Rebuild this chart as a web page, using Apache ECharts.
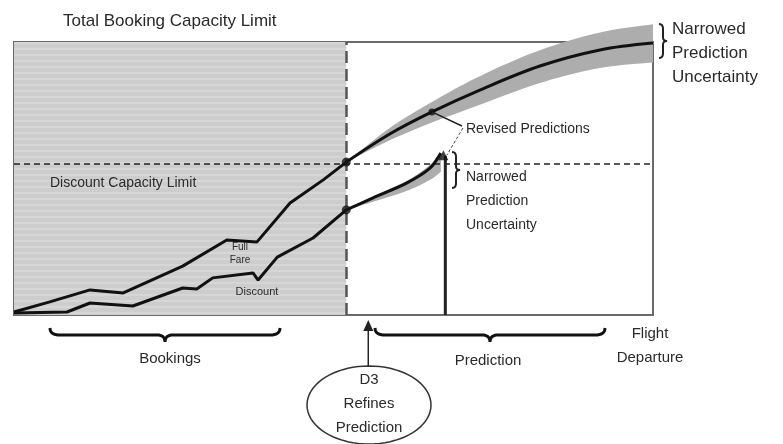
<!DOCTYPE html>
<html><head><meta charset="utf-8">
<script src="https://cdn.jsdelivr.net/npm/echarts@6/dist/echarts.min.js"></script>
<style>html,body{margin:0;padding:0;background:#fff}#c{width:783px;height:444px}</style>
</head><body><div id="c"></div>
<script>
// ---- data (time 0..100 = booking window, bookings 0..100 = total capacity) ----
var fullFareHistX = [0, 5.6, 11.9, 17.1, 26.4, 33.3, 38.0, 43.2, 48.4, 52];
var fullFareHistY = [1.1, 4.8, 9.2, 8.1, 17.9, 27.5, 26.7, 41.0, 49.5, 56];
var discountHistX = [0, 8.3, 11.9, 18.6, 26.4, 28.6, 31.1, 37.4, 38.2, 41.2, 46.8, 52];
var discountHistY = [0.7, 1.1, 4.4, 3.3, 9.9, 9.5, 13.6, 15.4, 12.8, 21.2, 28.2, 38.5];
var fullFarePredX = [52, 58.8, 65.4, 72.9, 82.3, 91.7, 100];
var fullFarePredY = [56, 66.3, 74.4, 82.4, 91.2, 97.1, 99.6];
var fullFareUpper = [56, 68.5, 78, 87.5, 97, 103.5, 106.5];
var fullFareLower = [56, 64, 70.5, 77, 85, 90.5, 92.5];
var discPredX = [52, 56.2, 61.5, 65.1, 66.8];
var discPredY = [38.5, 42.9, 48.4, 53.8, 59.3];
var discUpper = [38.5, 43.5, 49.2, 55, 59.3];
var discLower = [38.5, 41.5, 45.5, 49.5, 52.5];
var refineTime = 52;          // D3 refines prediction here
var discountLimit = 55.3;     // discount capacity limit
var totalLimit = 100;         // total booking capacity limit
var discDepartX = 67.5;       // discount drop line
var revisedDotX = 65.4, revisedDotY = 74.4;

function zip(xs, ys){ return xs.map(function(x,i){ return [x, ys[i]]; }); }

var FONT = 'Liberation Sans';
var chart = echarts.init(document.getElementById('c'), null, {renderer:'canvas'});

// stripe pattern for booking history area
var pc = document.createElement('canvas'); pc.width = 8; pc.height = 6;
var pctx = pc.getContext('2d');
pctx.fillStyle = '#cdcdcd'; pctx.fillRect(0,0,8,6);
pctx.fillStyle = '#d6d6d6'; pctx.fillRect(0,0,8,2);

// Catmull-Rom resampling of pixel points for smooth band edges
function catmull(pts, n){
  var out = [];
  for (var i=0;i<pts.length-1;i++){
    var p0 = pts[Math.max(i-1,0)], p1 = pts[i], p2 = pts[i+1], p3 = pts[Math.min(i+2,pts.length-1)];
    for (var k=0;k<n;k++){
      var t = k/n, t2=t*t, t3=t2*t;
      out.push([0,1].map(function(d){
        return 0.5*((2*p1[d]) + (-p0[d]+p2[d])*t + (2*p0[d]-5*p1[d]+4*p2[d]-p3[d])*t2 + (-p0[d]+3*p1[d]-3*p2[d]+p3[d])*t3);
      }));
    }
  }
  out.push(pts[pts.length-1]);
  return out;
}

function bandSeries(xs, up, lo, name){
  return {
    type:'custom', name:name, silent:true, clip:false, z:2,
    data:[0],
    renderItem:function(params, api){
      var u = [], l = [];
      for (var i=0;i<xs.length;i++){ u.push(api.coord([xs[i], up[i]])); l.push(api.coord([xs[i], lo[i]])); }
      var pts = catmull(u, 10).concat(catmull(l, 10).reverse());
      return {type:'polygon', shape:{points:pts}, style:{fill:'#adadad'}};
    }
  };
}

var lineBase = {type:'line', showSymbol:false, clip:false, z:5,
  lineStyle:{color:'#111', width:3}, itemStyle:{color:'#111'}};

chart.setOption({
  animation:false,
  grid:{left:14, top:42, right:130, bottom:129, show:true, borderColor:'#6a6a6a', borderWidth:2, backgroundColor:'transparent'},
  xAxis:{type:'value', min:0, max:100, show:false},
  yAxis:{type:'value', min:0, max:100, show:false},
  series:[
    {type:'line', data:[], silent:true,
      markArea:{silent:true, itemStyle:{color:{image:pc, repeat:'repeat'}},
        data:[[{coord:[0,0]},{coord:[refineTime,totalLimit]}]]},
      markLine:{silent:true, symbol:'none', label:{show:false},
        data:[
          [{coord:[0,discountLimit], lineStyle:{color:'#222', width:1.6, type:[6,4]}},{coord:[100,discountLimit]}],
          [{coord:[refineTime,0], lineStyle:{color:'#555', width:2.5, type:[12,6]}},{coord:[refineTime,totalLimit]}]
        ]}
    },
    bandSeries(fullFarePredX, fullFareUpper, fullFareLower, 'ffband'),
    bandSeries(discPredX, discUpper, discLower, 'dband'),
    Object.assign({}, lineBase, {name:'Full Fare', data:zip(fullFareHistX, fullFareHistY)}),
    Object.assign({}, lineBase, {name:'Discount', data:zip(discountHistX, discountHistY)}),
    Object.assign({}, lineBase, {name:'Full Fare pred', smooth:0.35, data:zip(fullFarePredX, fullFarePredY)}),
    Object.assign({}, lineBase, {name:'Discount pred', smooth:0.3, data:zip(discPredX, discPredY)}),
    Object.assign({}, lineBase, {name:'drop', data:[[discDepartX,0],[discDepartX,discPredY[discPredY.length-1]-1]],
      lineStyle:{color:'#222', width:3}}),
    {type:'scatter', z:6, symbol:'triangle', symbolSize:[10,10], itemStyle:{color:'#111'},
      data:[[discDepartX-0.3, discPredY[discPredY.length-1]-0.8]]},
    {type:'scatter', z:6, symbolSize:9, itemStyle:{color:'#111'},
      data:[[refineTime, fullFareHistY[fullFareHistY.length-1]],[refineTime, discountHistY[discountHistY.length-1]]]},
    {type:'scatter', z:6, symbolSize:7, itemStyle:{color:'#111'}, data:[[revisedDotX, revisedDotY]]}
  ]
});

function px(x,y){ return chart.convertToPixel({gridIndex:0}, [x,y]); }

function quad(p0, p1, p2, n){
  var o = [];
  for (var k=0;k<=n;k++){ var t=k/n, a=(1-t)*(1-t), b=2*(1-t)*t, c=t*t;
    o.push([a*p0[0]+b*p1[0]+c*p2[0], a*p0[1]+b*p1[1]+c*p2[1]]); }
  return o;
}
function hBrace(x1, x2, y){
  var m = (x1+x2)/2, pts = [];
  pts = pts.concat(quad([x1,y-7],[x1,y],[x1+10,y],8));
  pts = pts.concat(quad([m-8,y],[m,y],[m,y+7],8));
  pts = pts.concat(quad([m,y+7],[m,y],[m+8,y],8));
  pts = pts.concat(quad([x2-10,y],[x2,y],[x2,y-7],8));
  return {type:'polyline', z:10, shape:{points:pts}, style:{fill:null, stroke:'#111', lineWidth:3}};
}
function vBrace(x, y1, y2){
  var m = (y1+y2)/2, pts = [];
  pts = pts.concat(quad([x-4,y1],[x,y1],[x,y1+5],6));
  pts = pts.concat(quad([x,m-4],[x,m],[x+4,m],6));
  pts = pts.concat(quad([x+4,m],[x,m],[x,m+4],6));
  pts = pts.concat(quad([x,y2-5],[x,y2],[x-4,y2],6));
  return {type:'polyline', z:10, shape:{points:pts}, style:{fill:null, stroke:'#222', lineWidth:2}};
}
function ellipsePts(cx, cy, rx, ry){
  var o = [];
  for (var k=0;k<72;k++){ var a = k/72*Math.PI*2; o.push([cx+rx*Math.cos(a), cy+ry*Math.sin(a)]); }
  return o;
}
function txt(x, y, s, size, align, lh){
  return {type:'text', z:10, x:x, y:y, style:{text:s, font:size+'px '+FONT, fill:'#2a2a2a',
    align:align||'left', verticalAlign:'middle', lineHeight:lh||size*1.2}};
}

var dot = px(revisedDotX, revisedDotY);
var peak = px(discPredX[discPredX.length-1], discPredY[discPredY.length-1]);
var ax = px(refineTime, 0)[0] + 22;

chart.setOption({graphic:[
  txt(63, 21, 'Total Booking Capacity Limit', 17),
  txt(50, 183, 'Discount Capacity Limit', 14),
  txt(240, 254, 'Full\nFare', 10, 'center', 13),
  txt(257, 292, 'Discount', 11, 'center'),
  txt(466, 129, 'Revised Predictions', 14),
  {type:'polyline', z:10, shape:{points:[dot,[462,126]]}, style:{stroke:'#222', lineWidth:1.5}},
  {type:'polyline', z:10, shape:{points:[[463,128],[peak[0]+6,peak[1]+2]]}, style:{stroke:'#444', lineWidth:1, lineDash:[3,2]}},
  vBrace(663, 24, 58),
  txt(672, 53, 'Narrowed\nPrediction\nUncertainty', 17, 'left', 24),
  vBrace(456, 152, 188),
  txt(466, 201, 'Narrowed\nPrediction\nUncertainty', 14, 'left', 24),
  hBrace(50, 280, 335),
  hBrace(375, 605, 335),
  txt(170, 359, 'Bookings', 15, 'center'),
  txt(488, 361, 'Prediction', 15, 'center'),
  txt(650, 346, 'Flight\nDeparture', 15, 'center', 24),
  {type:'polygon', z:10, shape:{points:ellipsePts(369, 405, 62, 39)}, style:{fill:'#fff', stroke:'#333', lineWidth:1.5}},
  {type:'line', z:10, shape:{x1:ax, y1:366, x2:ax, y2:328}, style:{stroke:'#222', lineWidth:1.5}},
  {type:'polygon', z:10, shape:{points:[[ax,320],[ax-5,331],[ax+5,331]]}, style:{fill:'#222'}},
  txt(369, 404, 'D3\nRefines\nPrediction', 15, 'center', 24)
]});
</script></body></html>
